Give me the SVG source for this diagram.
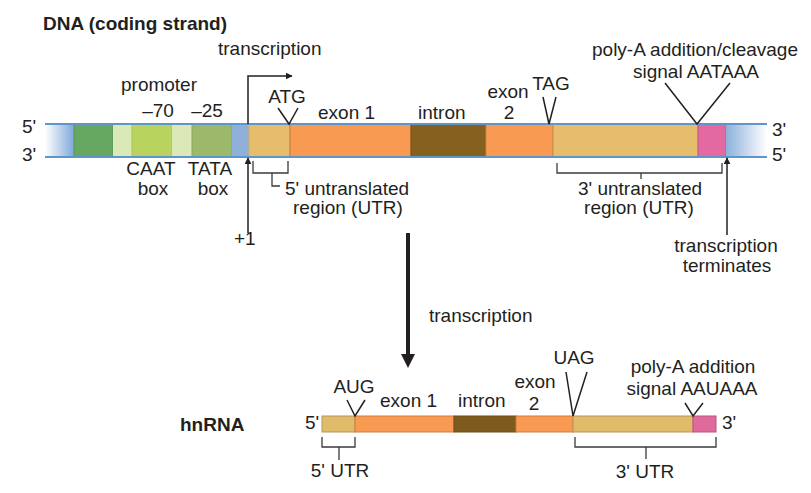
<svg xmlns="http://www.w3.org/2000/svg" width="811" height="493" viewBox="0 0 811 493">
<defs>
<style>
text{font-family:"Liberation Sans",Arial,sans-serif;font-size:19px;fill:#231f20}
.b{font-weight:bold}
.m{text-anchor:middle}
.ln{fill:none;stroke:#231f20;stroke-width:1.5}
.br{fill:none;stroke:#3a3a3a;stroke-width:1.3}
.seg{stroke-width:1}
.strand{stroke:#5f95c9;stroke-width:2}
</style>
<linearGradient id="gl" x1="0" x2="1" y1="0" y2="0"><stop offset="0" stop-color="#ffffff"/><stop offset="1" stop-color="#7fa8da"/></linearGradient>
<linearGradient id="gr" x1="0" x2="1" y1="0" y2="0"><stop offset="0" stop-color="#8db0dc"/><stop offset="1" stop-color="#ffffff"/></linearGradient>
<linearGradient id="gsl" x1="0" x2="1" y1="0" y2="0"><stop offset="0" stop-color="#5f95c9" stop-opacity="0.3"/><stop offset="0.05" stop-color="#5f95c9"/><stop offset="0.95" stop-color="#5f95c9"/><stop offset="1" stop-color="#5f95c9" stop-opacity="0.3"/></linearGradient>
<marker id="ah" viewBox="0 0 10 10" refX="9" refY="5" markerWidth="7" markerHeight="7" orient="auto" markerUnits="userSpaceOnUse"><path d="M0,0 L10,5 L0,10 z" fill="#231f20"/></marker>
</defs>
<g id="title"><text class="b" x="43" y="30">DNA (coding strand)</text></g>
<g id="dna">
<rect x="45" y="124" width="29" height="33" fill="url(#gl)"/>
<rect class="seg" x="74" y="124" width="39" height="33" fill="#66a861" stroke="#5a9656"/>
<rect class="seg" x="113" y="124" width="19" height="33" fill="#dbe8b8"/>
<rect class="seg" x="132" y="124" width="40" height="33" fill="#b9d45e" stroke="#a8c455"/>
<rect class="seg" x="172" y="124" width="20" height="33" fill="#dbe8b8"/>
<rect class="seg" x="192" y="124" width="40" height="33" fill="#9cb86a" stroke="#8fa860"/>
<rect x="232" y="124" width="17" height="33" fill="#8fb0d8"/>
<rect class="seg" x="249" y="124" width="41" height="33" fill="#e6bd6c" stroke="#d9ae5e"/>
<rect class="seg" x="290" y="124" width="121" height="33" fill="#f89a52" stroke="#c07a40"/>
<rect class="seg" x="411" y="124" width="75" height="33" fill="#86601f" stroke="#75541c"/>
<rect class="seg" x="486" y="124" width="67" height="33" fill="#f89a52" stroke="#d88444"/>
<rect class="seg" x="553" y="124" width="145" height="33" fill="#e6bd6c" stroke="#c58d50"/>
<rect class="seg" x="698" y="124" width="28" height="33" fill="#e36aa0" stroke="#c95b8a"/>
<rect x="726" y="124" width="41" height="33" fill="url(#gr)"/>
<line class="strand" x1="45" y1="124" x2="767" y2="124" stroke="url(#gsl)"/>
<line class="strand" x1="45" y1="157" x2="767" y2="157" stroke="url(#gsl)"/>
<text x="22" y="133">5'</text>
<text x="22" y="161">3'</text>
<text x="772" y="136">3'</text>
<text x="772" y="161">5'</text>
</g>
<g id="promoter">
<text class="m" x="159" y="91">promoter</text>
<text class="m" x="158" y="117">–70</text>
<text class="m" x="207" y="117">–25</text>
<text class="m" x="151" y="175">CAAT</text>
<text class="m" x="153" y="195">box</text>
<text class="m" x="210" y="175">TATA</text>
<text class="m" x="213" y="195">box</text>
</g>
<g id="dna-labels">
<text x="218" y="55">transcription</text>
<text class="m" x="287" y="103">ATG</text>
<text x="318" y="119">exon 1</text>
<text x="418" y="119">intron</text>
<text class="m" x="508" y="98">exon</text>
<text class="m" x="509" y="119">2</text>
<text class="m" x="551" y="90">TAG</text>
<text class="m" x="695" y="56">poly-A addition/cleavage</text>
<text class="m" x="696" y="78">signal AATAAA</text>
<text x="234" y="245">+1</text>
<text x="285" y="195">5' untranslated</text>
<text x="293" y="214">region (UTR)</text>
<text class="m" x="640" y="195">3' untranslated</text>
<text class="m" x="639" y="214">region (UTR)</text>
<text class="m" x="726" y="252">transcription</text>
<text class="m" x="727" y="272">terminates</text>
</g>
<g id="hnrna">
<text class="b" x="180" y="431">hnRNA</text>
<rect x="322" y="416" width="33" height="16" fill="#dfbb6a" stroke="#b8975a" stroke-width="1"/>
<rect x="355" y="416" width="99" height="16" fill="#f89a52" stroke="#d07c3c" stroke-width="1"/>
<rect x="454" y="416" width="62" height="16" fill="#7f5a1e" stroke="#6e4e1a" stroke-width="1"/>
<rect x="516" y="416" width="57" height="16" fill="#f89a52" stroke="#d07c3c" stroke-width="1"/>
<rect x="573" y="416" width="120" height="16" fill="#dfbb6a" stroke="#b8975a" stroke-width="1"/>
<rect x="693" y="416" width="23" height="16" fill="#e06a9c" stroke="#b85580" stroke-width="1"/>
<text x="305" y="429">5'</text>
<text x="722" y="429">3'</text>
<text class="m" x="354" y="393">AUG</text>
<text x="380" y="407">exon 1</text>
<text x="458" y="407">intron</text>
<text class="m" x="535" y="388">exon</text>
<text class="m" x="534" y="410">2</text>
<text class="m" x="574" y="364">UAG</text>
<text class="m" x="693" y="373">poly-A addition</text>
<text class="m" x="692" y="395">signal AAUAAA</text>
<text class="m" x="340" y="477">5' UTR</text>
<text class="m" x="645" y="478">3' UTR</text>
<text x="429" y="322">transcription</text>
</g>
<g id="connectors">
<path class="ln" d="M248,124 V76 H292" marker-end="url(#ah)"/>
<path class="ln" d="M248,233 V158" marker-end="url(#ah)"/>
<path class="ln" d="M727,235 V158" marker-end="url(#ah)"/>
<line x1="408" y1="233" x2="408" y2="356" stroke="#231f20" stroke-width="4"/>
<polygon points="401,354 415,354 408,368" fill="#231f20"/>
<polyline class="ln" points="278,108 289,124 298,108"/>
<polyline class="ln" points="543,97 549,124 556,97"/>
<polyline class="ln" points="665,83 697,124 730,83"/>
<polyline class="ln" points="347,400 355,416 365,400"/>
<polyline class="ln" points="566,372 573,416 587,372"/>
<polyline class="ln" points="685,403 693,416 703,403"/>
<path class="br" d="M253,161 V173 H288 V161 M272,173 V186 H280"/>
<path class="br" d="M557,163 V173 H722 V163 M641,173 V179"/>
<path class="br" d="M322,437 V447 H355 V437 M339,447 V460"/>
<path class="br" d="M575,437 V447 H716 V437 M646,447 V459"/>
</g>
</svg>
